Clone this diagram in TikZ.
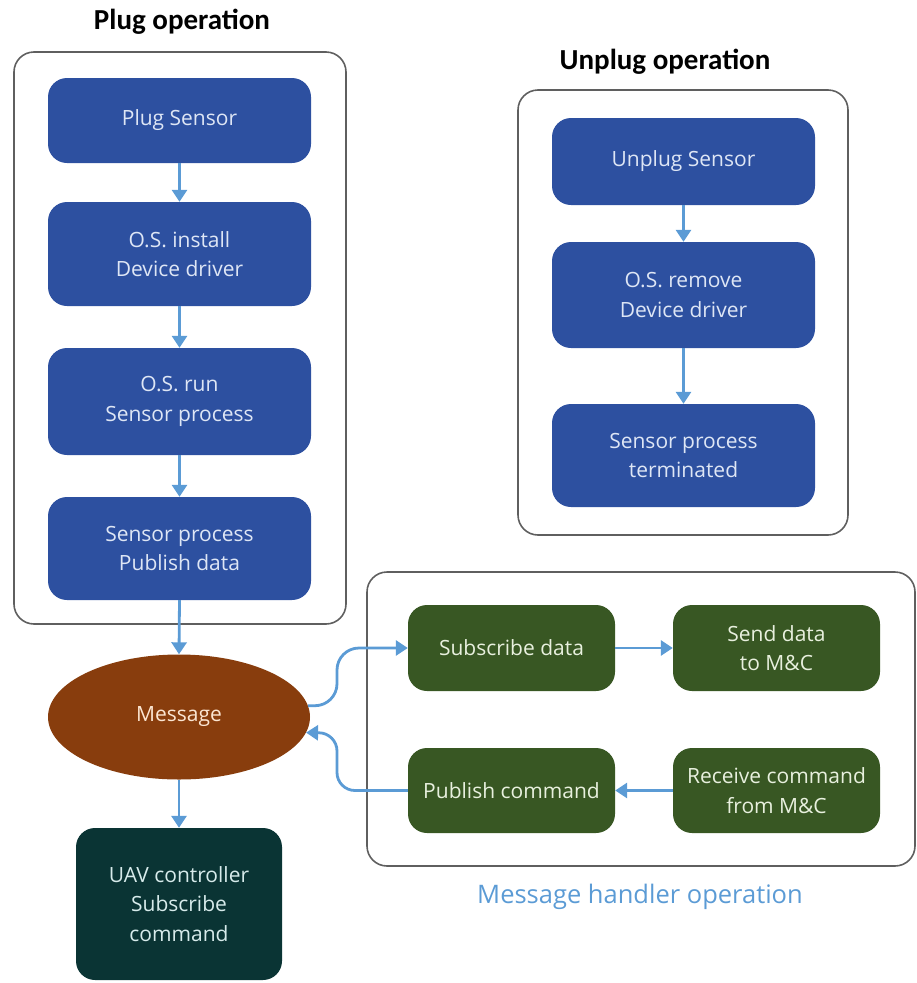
\documentclass[tikz,border=0pt]{standalone}
\usepackage{fontspec}
\setmainfont{Open Sans}
\newfontfamily\titlefont{Carlito}
\usetikzlibrary{arrows.meta,shapes.geometric}
\definecolor{bluebox}{RGB}{45,80,160}
\definecolor{greenbox}{RGB}{56,87,35}
\definecolor{brownmsg}{RGB}{136,61,13}
\definecolor{uavcol}{RGB}{10,52,52}
\definecolor{arrowblue}{RGB}{91,155,213}
\definecolor{framegray}{RGB}{95,95,95}
\definecolor{bluetext}{RGB}{222,230,245}
\definecolor{greentext}{RGB}{232,240,222}
\definecolor{browntext}{RGB}{252,230,210}
\definecolor{uavtext}{RGB}{215,235,235}
\tikzset{
  boxfont/.style={font=\fontsize{21}{29.5}\selectfont},
  frame/.style={draw=framegray,line width=1.6pt,rounded corners=20pt,inner sep=0pt},
  bluestep/.style={boxfont,rectangle,rounded corners=19pt,fill=bluebox,text=bluetext,align=center,inner sep=0pt,minimum width=263pt},
  greenstep/.style={boxfont,rectangle,rounded corners=19pt,fill=greenbox,text=greentext,align=center,inner sep=0pt,minimum width=207pt},
  titletext/.style={font=\titlefont\bfseries\fontsize{29}{34}\selectfont,text=black},
  arr/.style={draw=arrowblue,line width=2.8pt,-{Triangle[width=15pt,length=12pt]}}
}
\begin{document}
\begin{tikzpicture}[x=1pt,y=-1pt]
\useasboundingbox (0,0) rectangle (917,983);
% frames
\node[frame,minimum width=332pt,minimum height=572pt] (plugframe) at (180,338) {};
\node[frame,minimum width=330pt,minimum height=445pt] (unplugframe) at (683,312.5) {};
\node[frame,minimum width=548pt,minimum height=294pt] (mhframe) at (641,719) {};
% titles
\node[titletext] (plugtitle) at (182,22) {Plug operation};
\node[titletext] (unplugtitle) at (665,62) {Unplug operation};
\node[font=\fontsize{25.5}{30}\selectfont,text=arrowblue] (mhtitle) at (640,897) {Message handler operation};
% plug column
\node[bluestep,minimum height=85pt] (b1) at (179.5,120.5) {Plug Sensor};
\node[bluestep,minimum height=104pt] (b2) at (179.5,254) {O.S. install\\Device driver};
\node[bluestep,minimum height=107pt] (b3) at (179.5,401.5) {O.S. run\\Sensor process};
\node[bluestep,minimum height=103pt] (b4) at (179.5,548.5) {Sensor process\\Publish data};
\node[boxfont,ellipse,fill=brownmsg,text=browntext,minimum width=262pt,minimum height=125pt,inner sep=0pt] (msg) at (179,717) {Message};
\node[boxfont,rectangle,rounded corners=19pt,fill=uavcol,text=uavtext,align=center,inner sep=0pt,minimum width=206pt,minimum height=152pt] (uav) at (179,904) {UAV controller\\Subscribe\\command};
% unplug column
\node[bluestep,minimum height=87pt] (u1) at (683.5,161.5) {Unplug Sensor};
\node[bluestep,minimum height=106pt] (u2) at (683.5,295) {O.S. remove\\Device driver};
\node[bluestep,minimum height=103pt] (u3) at (683.5,455.5) {Sensor process\\terminated};
% message handler
\node[greenstep,minimum height=86pt] (sub) at (511.5,648) {Subscribe data};
\node[greenstep,minimum height=86pt] (send) at (776.5,648) {Send data\\to M\&C};
\node[greenstep,minimum height=85pt] (pub) at (511.5,790.5) {Publish command};
\node[greenstep,minimum height=85pt] (recv) at (776.5,790.5) {Receive command\\from M\&C};
% connectors
\draw[arr] (b1) -- (b2);
\draw[arr] (b2) -- (b3);
\draw[arr] (b3) -- (b4);
\draw[arr] (b4.south) -- (msg.north);
\draw[arr] (msg.south) -- (uav.north);
\draw[arr] (u1) -- (u2);
\draw[arr] (u2) -- (u3);
\draw[arr] (sub) -- (send);
\draw[arr] (recv) -- (pub);
\draw[arr,rounded corners=22pt] (msg.5) -| (337,648) -- (sub.west);
\draw[arr,rounded corners=18pt] (pub.west) -| (337,733) -- (msg.-7);
\end{tikzpicture}
\end{document}
